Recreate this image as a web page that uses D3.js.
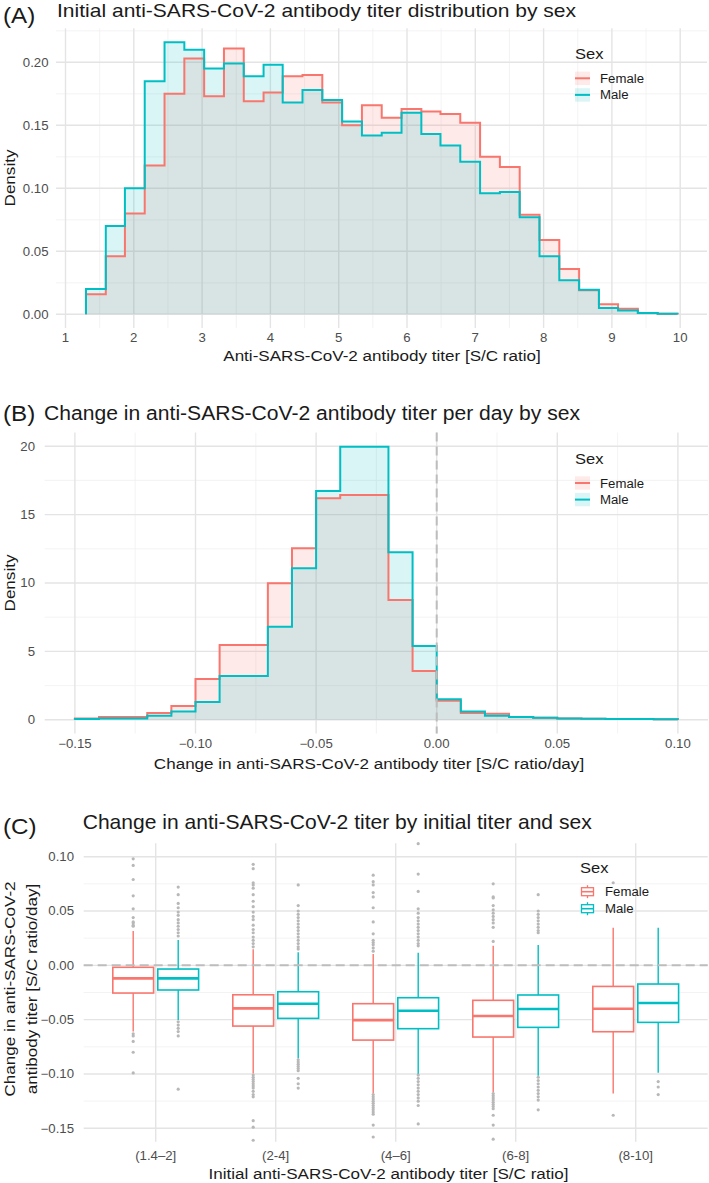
<!DOCTYPE html>
<html lang="en">
<head>
<meta charset="UTF-8">
<title>Anti-SARS-CoV-2 antibody titer by sex</title>
<script src="https://d3js.org/d3.v7.min.js"></script>
<style>
  body { margin: 0; background: #fff; }
  svg { display: block; font-family: "Liberation Sans", Arial, sans-serif; }
  .tick { fill: #4d4d4d; font-size: 12px; }
  .grid-major { stroke: #e4e4e4; stroke-width: 1.4; }
  .grid-minor { stroke: #f0f0f0; stroke-width: 0.8; }
</style>
</head>
<body>
<svg id="chart"></svg>
<script>
// ---- data ----
const sexes = ["Female", "Male"];
const colors = { Female: "#F8766D", Male: "#00BFC4" };

// (A) initial titer histogram, 30 bins
const titerBins = [1.30, 1.59, 1.87, 2.16, 2.45, 2.74, 3.03, 3.32, 3.61, 3.90, 4.18, 4.47, 4.76, 5.05, 5.34, 5.63,
  5.92, 6.21, 6.49, 6.78, 7.07, 7.36, 7.65, 7.94, 8.23, 8.52, 8.81, 9.09, 9.38, 9.67, 9.96];
const titerFemale = [0.016, 0.046, 0.080, 0.118, 0.175, 0.203, 0.173, 0.211, 0.169, 0.176, 0.189, 0.190, 0.168, 0.150, 0.166,
  0.156, 0.163, 0.161, 0.159, 0.152, 0.125, 0.117, 0.079, 0.059, 0.036, 0.019, 0.008, 0.0045, 0.001, 0.0005];
const titerMale = [0.020, 0.070, 0.100, 0.185, 0.216, 0.210, 0.195, 0.199, 0.189, 0.198, 0.168, 0.178, 0.170, 0.153, 0.142,
  0.144, 0.160, 0.143, 0.134, 0.121, 0.096, 0.097, 0.077, 0.046, 0.027, 0.0195, 0.005, 0.003, 0.001, 0.0005];

// (B) change per day histogram
const changeBins = [-0.15, -0.14, -0.13, -0.12, -0.11, -0.10, -0.09, -0.07, -0.06, -0.05, -0.04, -0.02, -0.01, 0,
  0.01, 0.02, 0.03, 0.04, 0.05, 0.06, 0.07, 0.08, 0.09, 0.10];
const changeFemale = [0.1, 0.2, 0.2, 0.5, 1.0, 2.98, 5.47, 9.98, 12.54, 16.19, 16.43, 8.76, 3.57,
  1.4, 0.5, 0.45, 0.2, 0.15, 0.1, 0.08, 0.06, 0.05, 0.04];
const changeMale = [0.05, 0.1, 0.1, 0.3, 0.6, 1.3, 3.2, 6.8, 11.07, 16.72, 19.96, 12.24, 5.39,
  1.5, 0.6, 0.3, 0.2, 0.15, 0.1, 0.08, 0.06, 0.05, 0.04];

// (C) boxplots: [lower whisker, q1, median, q3, upper whisker]
const titerGroups = ["(1.4–2]", "(2-4]", "(4–6]", "(6-8]", "(8-10]"];
const femaleBox = [
  [-0.061, -0.0255, -0.012, -0.0018, 0.0316],
  [-0.0995, -0.0559, -0.0396, -0.0271, 0.0147],
  [-0.1179, -0.0688, -0.0504, -0.0353, 0.0104],
  [-0.117, -0.066, -0.0467, -0.0322, 0.018],
  [-0.1179, -0.0611, -0.040, -0.0194, 0.0347]
];
const maleBox = [
  [-0.0504, -0.0227, -0.012, -0.0034, 0.0233],
  [-0.0857, -0.0488, -0.0353, -0.0243, 0.012],
  [-0.101, -0.0583, -0.0418, -0.0298, 0.0116],
  [-0.1016, -0.0571, -0.0402, -0.0273, 0.0187],
  [-0.0989, -0.0525, -0.0347, -0.0172, 0.0347]
];
const femaleOutliers = [
  [0.098, 0.092, 0.079, 0.064, 0.052, 0.044, 0.040, 0.039, 0.037, 0.036, -0.063, -0.065, -0.070, -0.080, -0.099],
  [0.093, 0.089, 0.076, 0.074, 0.071, 0.065, 0.059, 0.054, 0.049, 0.045, 0.042, 0.037, 0.033, 0.030, 0.026, 0.023, 0.020, 0.017,
    -0.101, -0.103, -0.105, -0.107, -0.109, -0.111, -0.113, -0.116, -0.119, -0.121, -0.143, -0.149, -0.161],
  [0.083, 0.077, 0.074, 0.067, 0.063, 0.053, 0.040, 0.029, 0.023, 0.021, 0.019, 0.016, 0.013,
    -0.119, -0.121, -0.123, -0.125, -0.127, -0.129, -0.131, -0.133, -0.135, -0.137, -0.147, -0.158],
  [0.075, 0.063, 0.062, 0.055, 0.051, 0.048, 0.045, 0.042, 0.039, 0.035, 0.022,
    -0.118, -0.120, -0.122, -0.124, -0.126, -0.128, -0.130, -0.132, -0.138, -0.147, -0.160],
  [0.076, -0.138]
];
const maleOutliers = [
  [0.072, 0.065, 0.057, 0.053, 0.049, 0.046, 0.042, 0.039, 0.036, 0.033, 0.030, 0.027, -0.052, -0.055, -0.058, -0.061, -0.065, -0.114],
  [0.074, 0.055, 0.050, 0.047, 0.044, 0.041, 0.038, 0.035, 0.032, 0.029, 0.026, 0.023, 0.020, 0.017, 0.015,
    -0.087, -0.089, -0.091, -0.093, -0.095, -0.097, -0.104, -0.109, -0.113],
  [0.112, 0.084, 0.068, 0.052, 0.048, 0.044, 0.041, 0.038, 0.035, 0.032, 0.029, 0.026, 0.023, 0.020, 0.018,
    -0.101, -0.104, -0.107, -0.110, -0.113, -0.116, -0.119, -0.122, -0.125, -0.129, -0.146],
  [0.065, 0.050, 0.047, 0.044, 0.041, 0.038, 0.035, 0.032, 0.030, -0.103, -0.106, -0.109, -0.112, -0.115, -0.118, -0.121, -0.124, -0.133],
  [-0.107, -0.112, -0.119]
];

const ticksA = [1, 2, 3, 4, 5, 6, 7, 8, 9, 10];
const ticksAy = [0, 0.05, 0.10, 0.15, 0.20];
const ticksB = [-0.15, -0.10, -0.05, 0, 0.05, 0.10];
const ticksBy = [0, 5, 10, 15, 20];
const ticksCy = [-0.15, -0.10, -0.05, 0, 0.05, 0.10];

// ---- drawing ----
const W = 709, H = 1183;
const svg = d3.select("#chart").attr("width", W).attr("height", H);
const STRETCH = 1.1;  // the source figure is a bit wider than tall

function text(g, str, x, y, size, anchor, opts = {}) {
  const t = g.append("text")
    .attr("x", x).attr("y", y)
    .attr("font-size", size)
    .attr("text-anchor", anchor || "start")
    .attr("fill", opts.fill || "#1a1a1a")
    .text(str);
  if (opts.cls) t.attr("class", opts.cls);
  if (opts.rotate) t.attr("transform", `rotate(-90,${x},${y})`);
  const w = t.node().getComputedTextLength();
  t.attr("textLength", opts.width || w * (opts.stretch || STRETCH)).attr("lengthAdjust", "spacingAndGlyphs");
  return t;
}

function grid(g, x, y, box, xMajor, xMinor, yMajor, yMinor) {
  const gg = g.append("g");
  yMinor.forEach(v => gg.append("line").attr("class", "grid-minor")
    .attr("x1", box.l).attr("x2", box.r).attr("y1", y(v)).attr("y2", y(v)));
  xMinor.forEach(v => gg.append("line").attr("class", "grid-minor")
    .attr("x1", x(v)).attr("x2", x(v)).attr("y1", box.t).attr("y2", box.b));
  yMajor.forEach(v => gg.append("line").attr("class", "grid-major")
    .attr("x1", box.l).attr("x2", box.r).attr("y1", y(v)).attr("y2", y(v)));
  xMajor.forEach(v => gg.append("line").attr("class", "grid-major")
    .attr("x1", x(v)).attr("x2", x(v)).attr("y1", box.t).attr("y2", box.b));
}

function histogram(g, x, y, edges, series) {
  series.forEach(([sex, vals]) => {
    const pts = [[edges[0], 0]];
    vals.forEach((v, i) => pts.push([edges[i], v]));
    pts.push([edges[edges.length - 1], vals[vals.length - 1]]);
    pts.push([edges[edges.length - 1], 0]);
    const area = d3.area().curve(d3.curveStepAfter)
      .x(d => x(d[0])).y0(y(0)).y1(d => y(d[1]));
    g.append("path").attr("d", area(pts))
      .attr("fill", colors[sex]).attr("fill-opacity", 0.15);
  });
  series.forEach(([sex, vals]) => {
    const pts = [[edges[0], 0]];
    vals.forEach((v, i) => pts.push([edges[i], v]));
    pts.push([edges[edges.length - 1], vals[vals.length - 1]]);
    pts.push([edges[edges.length - 1], 0]);
    const line = d3.line().curve(d3.curveStepAfter).x(d => x(d[0])).y(d => y(d[1]));
    g.append("path").attr("d", line(pts))
      .attr("fill", "none").attr("stroke", colors[sex]).attr("stroke-width", 2);
  });
}

function fillLegend(g, x, y) {
  text(g, "Sex", x, y, 15, "start");
  sexes.forEach((s, i) => {
    const cy = y + 19 + i * 16.6;
    g.append("rect").attr("x", x).attr("y", cy - 6.7).attr("width", 15).attr("height", 13.4)
      .attr("fill", colors[s]).attr("fill-opacity", 0.15);
    g.append("line").attr("x1", x).attr("x2", x + 15).attr("y1", cy).attr("y2", cy)
      .attr("stroke", colors[s]).attr("stroke-width", 2);
    text(g, s, x + 25, cy + 4.5, 12, "start");
  });
}

const fmt2 = d => (d < 0 ? "\u2212" : "") + d3.format(".2f")(Math.abs(d));

// ---------- panel A ----------
const gA = svg.append("g");
const boxA = { l: 56, r: 707, t: 28.3, b: 327.9 };
const xA = d3.scaleLinear().domain([1, 10]).range([65.5, 680.2]);
const yA = d3.scaleLinear().domain([0, 0.20]).range([314.3, 62.3]);
grid(gA, xA, yA, boxA, ticksA, ticksA.slice(0, -1).map(d => d + 0.5),
  ticksAy, ticksAy.map(d => d + 0.025));
histogram(gA, xA, yA, titerBins, [["Female", titerFemale], ["Male", titerMale]]);
ticksAy.forEach(v => text(gA, d3.format(".2f")(v), 48.5, yA(v) + 4.3, 12, "end", { cls: "tick", fill: "#4d4d4d" }));
ticksA.forEach(v => text(gA, v, xA(v), 342, 12, "middle", { cls: "tick", fill: "#4d4d4d" }));
text(gA, "Anti-SARS-CoV-2 antibody titer [S/C ratio]", 382, 361, 15.5, "middle");
text(gA, "Density", 15, 178, 15.5, "middle", { rotate: true });
text(gA, "(A)", 3, 23, 22, "start");
text(gA, "Initial anti-SARS-CoV-2 antibody titer distribution by sex", 57, 17, 18.5, "start", { width: 519 });
fillLegend(gA, 575, 59.3);

// ---------- panel B ----------
const gB = svg.append("g");
const boxB = { l: 44.7, r: 708, t: 432.5, b: 733.5 };
const xB = d3.scaleLinear().domain([-0.15, 0.10]).range([74.9, 677.9]);
const yB = d3.scaleLinear().domain([0, 20]).range([719.8, 446.2]);
grid(gB, xB, yB, boxB, ticksB, ticksB.slice(0, -1).map(d => d + 0.025),
  ticksBy, ticksBy.slice(0, -1).map(d => d + 2.5));
histogram(gB, xB, yB, changeBins, [["Female", changeFemale], ["Male", changeMale]]);
gB.append("line").attr("x1", xB(0)).attr("x2", xB(0)).attr("y1", boxB.t).attr("y2", boxB.b)
  .attr("stroke", "#bdbdbd").attr("stroke-width", 2).attr("stroke-dasharray", "9,5");
ticksBy.forEach(v => text(gB, v, 35, yB(v) + 4.3, 12, "end", { cls: "tick", fill: "#4d4d4d" }));
ticksB.forEach(v => text(gB, fmt2(v), xB(v), 748, 12, "middle", { cls: "tick", fill: "#4d4d4d" }));
text(gB, "Change in anti-SARS-CoV-2 antibody titer [S/C ratio/day]", 369, 769, 15.5, "middle");
text(gB, "Density", 15, 583, 15.5, "middle", { rotate: true });
text(gB, "(B)", 3, 421, 22, "start");
text(gB, "Change in anti-SARS-CoV-2 antibody titer per day by sex", 44, 420, 19.5, "start", { width: 536 });
fillLegend(gB, 575, 464);

// ---------- panel C ----------
const gC = svg.append("g");
const boxC = { l: 83.7, r: 707.7, t: 843.3, b: 1141.7 };
const xC = d3.scalePoint().domain(titerGroups).range([155.7, 635.7]);
const yC = d3.scaleLinear().domain([-0.15, 0.10]).range([1128.3, 856.7]);
grid(gC, xC, yC, boxC, titerGroups, [], ticksCy, ticksCy.slice(0, -1).map(d => d + 0.025));

const dodge = xC.step() * 0.1875, boxW = xC.step() * 0.34;
[["Female", femaleBox, femaleOutliers, -1], ["Male", maleBox, maleOutliers, 1]].forEach(([sex, boxes, outs, side]) => {
  const col = colors[sex];
  titerGroups.forEach((grp, i) => {
    const cx = xC(grp) + side * dodge;
    const [lo, q1, med, q3, hi] = boxes[i];
    const gb = gC.append("g");
    gb.append("line").attr("x1", cx).attr("x2", cx).attr("y1", yC(hi)).attr("y2", yC(q3))
      .attr("stroke", col).attr("stroke-width", 1.4);
    gb.append("line").attr("x1", cx).attr("x2", cx).attr("y1", yC(q1)).attr("y2", yC(lo))
      .attr("stroke", col).attr("stroke-width", 1.4);
    gb.append("rect").attr("x", cx - boxW / 2).attr("y", yC(q3)).attr("width", boxW).attr("height", yC(q1) - yC(q3))
      .attr("fill", "#fff").attr("stroke", col).attr("stroke-width", 1.6);
    gb.append("line").attr("x1", cx - boxW / 2).attr("x2", cx + boxW / 2).attr("y1", yC(med)).attr("y2", yC(med))
      .attr("stroke", col).attr("stroke-width", 2.6);
    gb.selectAll("circle").data(outs[i]).enter().append("circle")
      .attr("cx", cx).attr("cy", d => yC(d)).attr("r", 1.6).attr("fill", "#b8b8b8");
  });
});
gC.append("line").attr("x1", boxC.l).attr("x2", boxC.r).attr("y1", yC(0)).attr("y2", yC(0))
  .attr("stroke", "#bdbdbd").attr("stroke-width", 2).attr("stroke-dasharray", "9,5");

ticksCy.forEach(v => text(gC, fmt2(v), 74, yC(v) + 4.3, 12, "end", { cls: "tick", fill: "#4d4d4d" }));
titerGroups.forEach(v => text(gC, v, xC(v), 1160, 12, "middle", { cls: "tick", fill: "#4d4d4d" }));
text(gC, "Initial anti-SARS-CoV-2 antibody titer [S/C ratio]", 388.5, 1179, 15.5, "middle");
text(gC, "Change in anti-SARS-CoV-2", 15, 989, 15.5, "middle", { rotate: true });
text(gC, "antibody titer [S/C ratio/day]", 36.5, 989, 15.5, "middle", { rotate: true });
text(gC, "(C)", 3, 834, 22, "start");
text(gC, "Change in anti-SARS-CoV-2 titer by initial titer and sex", 82.7, 829, 21, "start", { width: 509 });

// boxplot legend
const lx = 580;
text(gC, "Sex", lx, 873.3, 15, "start");
sexes.forEach((s, i) => {
  const cy = 891.7 + i * 17;
  const col = colors[s];
  gC.append("line").attr("x1", lx + 7.5).attr("x2", lx + 7.5).attr("y1", cy - 6.5).attr("y2", cy + 6.5)
    .attr("stroke", col).attr("stroke-width", 1.3);
  gC.append("rect").attr("x", lx + 1.5).attr("y", cy - 4).attr("width", 12).attr("height", 8)
    .attr("fill", "#fff").attr("stroke", col).attr("stroke-width", 1.3);
  gC.append("line").attr("x1", lx + 1.5).attr("x2", lx + 13.5).attr("y1", cy).attr("y2", cy)
    .attr("stroke", col).attr("stroke-width", 1.6);
  text(gC, s, lx + 25, cy + 4.5, 12, "start");
});
</script>
</body>
</html>
